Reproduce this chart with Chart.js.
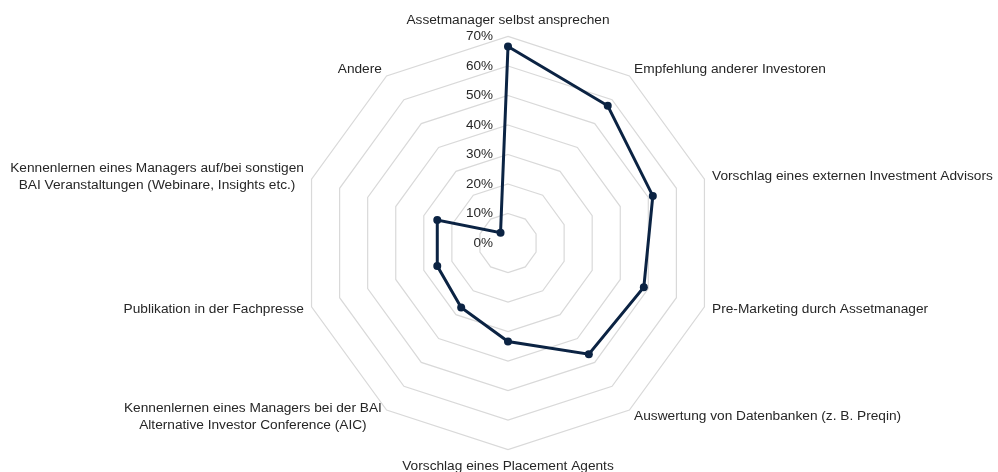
<!DOCTYPE html>
<html>
<head>
<meta charset="utf-8">
<script src="https://cdn.jsdelivr.net/npm/chart.js@4/dist/chart.umd.min.js"></script>
<style>
  html, body { margin: 0; padding: 0; background: #fff; }
  #wrap { width: 998px; height: 472px; position: relative; }
</style>
</head>
<body>
<div id="wrap"><canvas id="radar"></canvas></div>
<script>
// <------------------------------- data ------------------------------->
const categories = [
    'Assetmanager selbst ansprechen',
    'Empfehlung anderer Investoren',
    'Vorschlag eines externen Investment Advisors',
    'Pre-Marketing durch Assetmanager',
    'Auswertung von Datenbanken (z. B. Preqin)',
    'Vorschlag eines Placement Agents',
    ['Kennenlernen eines Managers bei der BAI', 'Alternative Investor Conference (AIC)'],
    'Publikation in der Fachpresse',
    ['Kennenlernen eines Managers auf/bei sonstigen', 'BAI Veranstaltungen (Webinare, Insights etc.)'],
    'Andere'
];
const shares = [66.6, 57.5, 51.6, 48.4, 46.6, 33.4, 27, 25.2, 25.2, 4.3];
const tickValues = [0, 10, 20, 30, 40, 50, 60, 70];
const tickLabels = ['0%', '10%', '20%', '30%', '40%', '50%', '60%', '70%'];

const navy = '#0b2343';
const textColor = '#262626';
const fontFamily = '"Liberation Sans", Arial, sans-serif';
const fontSize = 13.7;

// tick labels left of the vertical axis, right aligned
const tickLabelPlugin = {
    id: 'tickLabelPlugin',
    beforeDatasetsDraw(chart) {
        const s = chart.scales.r;
        const ctx = chart.ctx;
        ctx.save();
        ctx.font = '13.5px ' + fontFamily;
        ctx.fillStyle = textColor;
        ctx.textAlign = 'right';
        ctx.textBaseline = 'middle';
        for (let i = 0; i < tickValues.length; i++) {
            const d = s.getDistanceFromCenterForValue(tickValues[i]);
            ctx.fillText(tickLabels[i], s.xCenter - 15, s.yCenter - d);
        }
        ctx.restore();
    }
};

// category labels: anchored just outside the outer ring, vertically centred,
// lines of a multi-line label centred on each other
const categoryLabelPlugin = {
    id: 'categoryLabelPlugin',
    afterDraw(chart) {
        const s = chart.scales.r;
        const ctx = chart.ctx;
        const lh = fontSize * 1.2;
        ctx.save();
        ctx.font = fontSize + 'px ' + fontFamily;
        ctx.fillStyle = textColor;
        ctx.textBaseline = 'middle';
        ctx.textAlign = 'center';
        for (let i = 0; i < categories.length; i++) {
            const lines = [].concat(categories[i]);
            const p = s.getPointPosition(i, s.drawingArea + 8);
            const w = Math.max(...lines.map(t => ctx.measureText(t).width));
            const h = lh * lines.length;
            let cx = p.x, top = p.y - h / 2;
            const dx = p.x - s.xCenter, dy = p.y - s.yCenter;
            if (Math.abs(dx) < 1) {
                top = dy < 0 ? p.y - h : p.y;
            } else if (dx > 0) {
                cx = p.x + w / 2;
            } else {
                cx = p.x - w / 2;
            }
            for (let j = 0; j < lines.length; j++) {
                ctx.fillText(lines[j], cx, top + lh * (j + 0.5));
            }
        }
        ctx.restore();
    }
};

const ctx = document.getElementById('radar').getContext('2d');
const radarChart = new Chart(ctx, {
    type: 'radar',
    data: {
        labels: categories,
        datasets: [{
            label: 'Anteil',
            data: shares,
            borderColor: navy,
            backgroundColor: 'rgba(0,0,0,0)',
            borderWidth: 3,
            pointRadius: 4,
            pointBackgroundColor: navy,
            pointBorderColor: navy,
            pointBorderWidth: 0,
            fill: false
        }]
    },
    options: {
        responsive: true,
        maintainAspectRatio: false,
        animation: false,
        layout: {
            padding: { top: 15, bottom: 1, left: 6, right: 0 }
        },
        plugins: {
            legend: { display: false },
            tooltip: { enabled: false }
        },
        scales: {
            r: {
                min: 0,
                max: 70,
                ticks: { stepSize: 10, display: false },
                angleLines: { display: false },
                grid: { color: '#d9d9d9', lineWidth: 1.2 },
                pointLabels: {
                    font: { family: fontFamily, size: fontSize },
                    color: 'rgba(0,0,0,0)',
                    padding: 5
                }
            }
        }
    },
    plugins: [tickLabelPlugin, categoryLabelPlugin]
});
</script>
</body>
</html>
